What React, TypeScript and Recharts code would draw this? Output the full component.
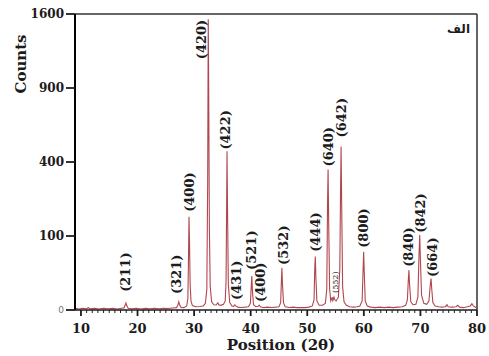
import { ComposedChart, Line, Scatter, XAxis, YAxis, ReferenceLine } from 'recharts'

// XRD scan: [2θ, counts] (sqrt intensity axis)
const scan: [number, number][] = [
  [9.0, 0.05], [9.6, 0.02], [10.3, 0.06], [11.0, 0.03], [11.3, 0.1], [11.6, 0.03], [12.4, 0.05],
  [13.2, 0.02], [14.0, 0.06], [14.8, 0.03], [15.6, 0.05], [16.4, 0.02], [17.2, 0.06],
  [17.6, 0.08], [17.8, 0.4], [17.95, 0.9], [18.1, 0.35], [18.35, 0.06],
  [19.0, 0.03], [19.8, 0.06], [20.6, 0.02], [21.4, 0.05], [22.2, 0.03], [23.0, 0.06], [23.8, 0.03],
  [24.6, 0.05], [25.4, 0.04], [26.2, 0.07], [26.9, 0.1],
  [27.15, 0.5], [27.3, 1.2], [27.45, 0.45], [27.7, 0.12], [28.2, 0.1], [28.7, 0.3],
  [28.9, 2.5], [29.0, 40], [29.1, 159], [29.18, 90], [29.3, 12], [29.45, 1.5], [29.7, 0.35],
  [30.3, 0.2], [31.0, 0.22], [31.6, 0.3], [32.0, 0.8],
  [32.25, 8], [32.4, 300], [32.5, 1545], [32.58, 900], [32.7, 120], [32.85, 10], [33.1, 1.2],
  [33.5, 0.5], [33.9, 0.45], [34.05, 0.7], [34.2, 0.95], [34.35, 0.5], [34.7, 0.4], [35.2, 0.6], [35.5, 1.5],
  [35.65, 15], [35.75, 200], [35.82, 460], [35.9, 200], [36.05, 12], [36.3, 1.0], [36.7, 0.3],
  [37.0, 0.25], [37.1, 0.4], [37.2, 0.5], [37.35, 0.3], [37.7, 0.15], [38.3, 0.12], [39.0, 0.15],
  [39.6, 0.2], [39.95, 0.8],
  [40.1, 10], [40.2, 21], [40.32, 6], [40.5, 0.5], [40.9, 0.2], [41.3, 0.25], [41.5, 0.45], [41.7, 0.2],
  [42.3, 0.1], [43.0, 0.15], [43.7, 0.12], [44.4, 0.15], [45.0, 0.2], [45.3, 1.0],
  [45.42, 14], [45.52, 32], [45.62, 12], [45.8, 1.0], [46.1, 0.2], [46.8, 0.12], [47.5, 0.15],
  [48.2, 0.1], [48.9, 0.12], [49.6, 0.1], [50.3, 0.15], [50.9, 0.3], [51.2, 2],
  [51.32, 30], [51.42, 52], [51.52, 20], [51.7, 1.5], [52.1, 0.4], [52.7, 0.4], [53.2, 0.8], [53.45, 8],
  [53.58, 200], [53.68, 360], [53.78, 150], [53.95, 8], [54.15, 1.5], [54.3, 2.2], [54.4, 3],
  [54.52, 1.6], [54.62, 2.2], [54.72, 3], [54.85, 2], [55.1, 1.5], [55.5, 3], [55.75, 30],
  [55.88, 250], [55.98, 488], [56.08, 210], [56.25, 10], [56.5, 1.2], [56.9, 0.4], [57.5, 0.2],
  [58.2, 0.15], [58.8, 0.2], [59.3, 0.3], [59.7, 1.5],
  [59.85, 25], [59.97, 62], [60.08, 25], [60.25, 1.5], [60.6, 0.3], [61.2, 0.15], [62.0, 0.1],
  [62.8, 0.15], [63.6, 0.1], [64.4, 0.15], [65.2, 0.1], [66.0, 0.15], [66.8, 0.2], [67.4, 0.4], [67.7, 2],
  [67.85, 15], [67.97, 29], [68.08, 12], [68.3, 1.2], [68.7, 0.5], [69.2, 0.6], [69.55, 3],
  [69.75, 55], [69.88, 103], [70.0, 45], [70.2, 4], [70.6, 0.8], [71.1, 0.6], [71.5, 1.5],
  [71.75, 12], [71.88, 18], [72.0, 8], [72.2, 1.0], [72.6, 0.3], [73.2, 0.2], [73.8, 0.15],
  [74.4, 0.2], [74.7, 0.5], [74.9, 0.2], [75.6, 0.15], [76.3, 0.2], [76.6, 0.4], [76.9, 0.15],
  [77.6, 0.1], [78.3, 0.2], [78.8, 0.3], [79.1, 0.7], [79.35, 0.3], [79.7, 0.15], [80.0, 0.1],
]

// Miller indices and where each label sits (2θ, counts at the label foot)
const hkl = ['(211)', '(321)', '(400)', '(420)', '(422)', '(431)', '(521)', '(400)', '(532)',
  '(444)', '(640)', '(552)', '(642)', '(800)', '(840)', '(842)', '(664)']
const hklTheta = [17.95, 26.97, 29.27, 31.3, 35.54, 37.58, 40.14, 41.82, 45.8,
  51.54, 53.75, 55.08, 56.05, 60.03, 67.98, 69.93, 72.05]
const hklCounts = [6, 4.7, 176, 1149, 470, 1.84, 29.4, 1.18, 37.2,
  61.8, 376, 5.3, 544, 70.7, 34, 109, 20]

const xTicks = Array.from({ length: 71 }, (_, i) => 10 + i)
const yTicks = [0, 100, 400, 900, 1600]

const scanData = scan.map(([t, c]) => ({ t, c }))
const labelData = hkl.map((text, i) => ({ t: hklTheta[i], c: hklCounts[i], text }))

const SERIF = '"DejaVu Serif", serif'
const INK = '#1c1c1c'

function XTick({ x, y, payload }: any) {
  const major = payload.value % 10 === 0
  return (
    <g>
      <line x1={x} x2={x} y1={y} y2={y + (major ? 6 : 3)} stroke={INK} strokeWidth={major ? 1.8 : 1} />
      {major && (
        <text x={x} y={y + 23} textAnchor="middle" fontFamily={SERIF} fontWeight={700} fontSize={13} fill={INK}>
          {payload.value}
        </text>
      )}
    </g>
  )
}

function YTick({ x, y, payload }: any) {
  const zero = payload.value === 0
  return (
    <text x={x} y={y} textAnchor="end" dominantBaseline="central" fontFamily={zero ? '"DejaVu Sans", sans-serif' : SERIF}
      fontWeight={zero ? 400 : 700} fontSize={zero ? 9 : 12} fill={zero ? '#777' : INK}>
      {payload.value}
    </text>
  )
}

function HklLabel({ cx, cy, payload }: any) {
  const small = payload.text === '(552)'
  return (
    <text x={cx} y={cy} transform={`rotate(-90 ${cx} ${cy})`} textAnchor="start" dominantBaseline="central"
      fontFamily={SERIF} fontWeight={small ? 400 : 700} fontSize={small ? 8 : 13} fill={INK}>
      {payload.text}
    </text>
  )
}

export default function App() {
  return (
    <div style={{ position: 'absolute', left: 0, top: 0, width: 489, height: 356, background: '#fff' }}>
      <ComposedChart width={489} height={356} data={scanData} margin={{ top: 14, right: 12, bottom: 0, left: 0 }}>
        <XAxis
          dataKey="t"
          type="number"
          domain={[8.95, 80]}
          allowDataOverflow
          ticks={xTicks}
          interval={0}
          height={46}
          tickSize={0}
          tickMargin={0}
          tick={<XTick />}
          axisLine={{ stroke: INK, strokeWidth: 1.5 }}
          label={{
            content: ({ viewBox }: any) => (
              <text x={viewBox.x + viewBox.width / 2 + 5} y={viewBox.y + 40} textAnchor="middle"
                fontFamily={SERIF} fontWeight={700} fontSize={15} fill={INK}>
                Position (2θ)
              </text>
            ),
          }}
        />
        <YAxis
          type="number"
          scale="sqrt"
          domain={[0, 1600]}
          ticks={yTicks}
          interval={0}
          width={75}
          tickSize={9}
          tickMargin={2}
          tick={<YTick />}
          tickLine={{ stroke: INK, strokeWidth: 1.8 }}
          axisLine={{ stroke: '#000', strokeWidth: 2 }}
          label={{
            content: ({ viewBox }: any) => (
              <text x={viewBox.x + 21} y={viewBox.y + 50} transform={`rotate(-90 ${viewBox.x + 21} ${viewBox.y + 50})`}
                textAnchor="middle" dominantBaseline="central" fontFamily={SERIF} fontWeight={700} fontSize={15} fill={INK}>
                Counts
              </text>
            ),
          }}
        />
        <ReferenceLine
          y={1600}
          stroke="#333"
          strokeWidth={1.5}
          label={{
            content: ({ viewBox }: any) => (
              <text x={viewBox.x + viewBox.width - 7} y={viewBox.y + 19} textAnchor="end"
                fontFamily='"DejaVu Sans", sans-serif' fontWeight={700} fontSize={12} fill={INK}>
                الف
              </text>
            ),
          }}
        />
        <ReferenceLine x={80} stroke="#333" strokeWidth={1.5} />
        <Line dataKey="c" type="linear" stroke="#b2464e" strokeWidth={1.1} dot={false} isAnimationActive={false} />
        <Scatter data={labelData} dataKey="c" shape={<HklLabel />} isAnimationActive={false} />
      </ComposedChart>
    </div>
  )
}
